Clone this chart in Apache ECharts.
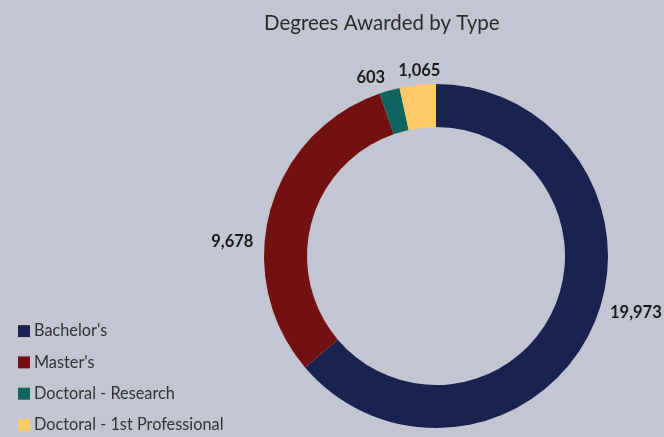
<!DOCTYPE html>
<html>
<head>
<meta charset="utf-8">
<script src="https://cdn.jsdelivr.net/npm/echarts@6/dist/echarts.min.js"></script>
<style>
  html, body { margin: 0; padding: 0; background: #c3c6d2; }
  #chart { width: 664px; height: 437px; }
</style>
</head>
<body>
<div id="chart"></div>
<script>
// degree types and counts
var categories = ["Bachelor's", "Master's", 'Doctoral - Research', 'Doctoral - 1st Professional'];
var counts = [19973, 9678, 603, 1065];
var colors = ['#1a2250', '#721012', '#10635f', '#ffc966'];

var chart = echarts.init(document.getElementById('chart'));

var pieData = categories.map(function (name, i) {
    return { name: name, value: counts[i], itemStyle: { color: colors[i] } };
});

// nudge the outside labels a bit toward where the original put them
function nudgeLabel(params) {
    var shift = [[2, -20], [0, 34], [4, -1], [29, -2]][params.dataIndex] || [0, 0];
    return { dx: shift[0], dy: shift[1], hideOverlap: false };
}

chart.setOption({
    backgroundColor: '#c3c6d2',
    animation: false,
    title: {
        text: 'Degrees Awarded by Type',
        left: 259,
        top: 8,
        textStyle: {
            fontFamily: 'Lato',
            fontSize: 20.5,
            fontWeight: 'normal',
            color: '#2b2b2b'
        }
    },
    legend: {
        orient: 'vertical',
        left: 13,
        bottom: -1,
        itemWidth: 12,
        itemHeight: 12,
        itemGap: 15.3,
        icon: 'rect',
        textStyle: {
            fontFamily: 'Lato',
            fontSize: 16.3,
            color: '#333',
            padding: [0, 0, 0, -1]
        },
        data: categories
    },
    series: [{
        type: 'pie',
        center: [436, 256],
        radius: [129, 172],
        startAngle: 90,
        clockwise: true,
        silent: true,
        avoidLabelOverlap: false,
        label: {
            show: true,
            position: 'outside',
            formatter: function (p) { return p.value.toLocaleString('en-US'); },
            fontFamily: 'Lato',
            fontSize: 16.5,
            fontWeight: 'bold',
            color: '#1a1a1a'
        },
        labelLine: { show: false, length: 12, length2: 0 },
        labelLayout: nudgeLabel,
        data: pieData
    }]
});
</script>
</body>
</html>
